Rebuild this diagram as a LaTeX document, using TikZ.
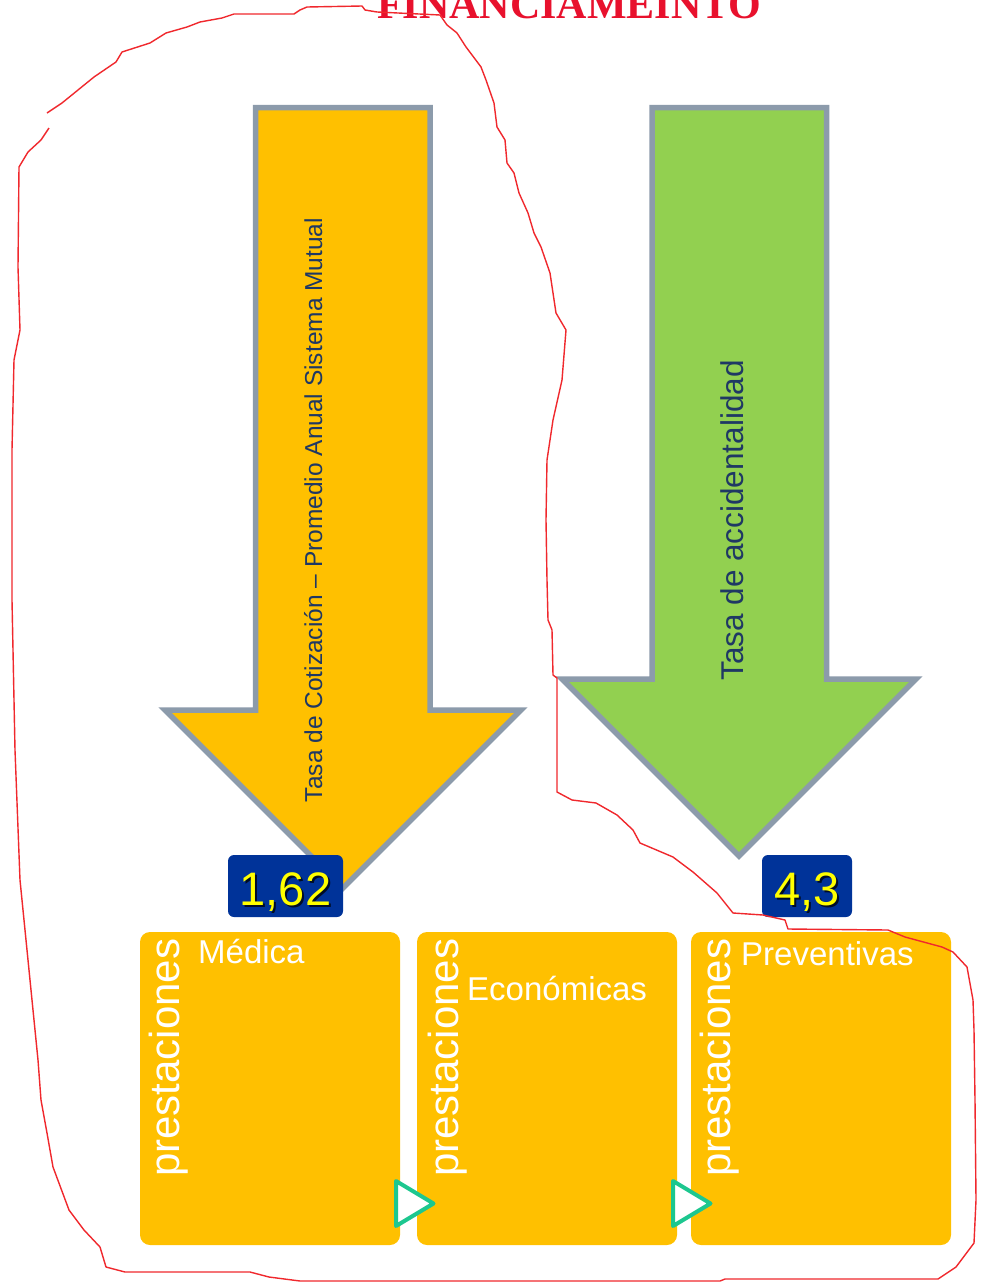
\documentclass[tikz,border=0pt]{standalone}
\usepackage{fontspec}
\setmainfont{Liberation Sans}
\newfontfamily\titlefont{Liberation Serif}
\usetikzlibrary{calc}
\definecolor{orangefill}{HTML}{FFC000}
\definecolor{greenfill}{HTML}{92D050}
\definecolor{arrowborder}{HTML}{8C9BAB}
\definecolor{navytext}{HTML}{1F3864}
\definecolor{numblue}{HTML}{003399}
\definecolor{numyellow}{HTML}{FFFF00}
\definecolor{tealtri}{HTML}{1DC78F}
\definecolor{titlered}{HTML}{E8112D}
\definecolor{outlinered}{HTML}{F0282D}
\tikzset{
  bigarrow/.style={line width=5.5, draw=arrowborder, line join=miter},
  arrowtext/.style={rotate=90, anchor=base, text=navytext, inner sep=0},
  numbox/.style={fill=numblue, rounded corners=6, minimum width=#1, minimum height=62, inner sep=0},
  numtext/.style={anchor=base, text=numyellow, inner sep=0, font=\fontsize{47}{50}\selectfont},
  numshadow/.style={anchor=base, text=black, opacity=0.75, inner sep=0, font=\fontsize{47}{50}\selectfont},
  pbox/.style={fill=orangefill, rounded corners=10, minimum width=260, minimum height=313, inner sep=0},
  vlabel/.style={rotate=90, anchor=base west, text=white, inner sep=0, font=\fontsize{42}{46}\selectfont},
  hlabel/.style={anchor=base west, text=white, inner sep=0, font=\fontsize{33}{36}\selectfont},
  tri/.style={line width=4, draw=tealtri, fill=white, line join=round},
  outline/.style={draw=outlinered, line width=1.4, line join=round}
}
\begin{document}
\begin{tikzpicture}[x=1pt,y=-1pt]
\clip (0,0) rectangle (980,1282);
\fill[white] (0,0) rectangle (980,1282);

% title
\node[anchor=base west, text=titlered, inner sep=0, font=\titlefont\bfseries\fontsize{42}{46}\selectfont] (title) at (377,18) {FINANCIAMEINTO};

% arrows
\draw[bigarrow, fill=orangefill] (255.5,107.5) -- (430,107.5) -- (430,710) -- (521,710) -- (343,888) -- (165,710) -- (255.5,710) -- cycle;
\draw[bigarrow, fill=greenfill] (652,107.5) -- (826.5,107.5) -- (826.5,679) -- (916,679) -- (739,856) -- (562,679) -- (652,679) -- cycle;
\node[arrowtext, font=\fontsize{24.5}{28}\selectfont] (t1) at (322,510) {Tasa de Cotización – Promedio Anual Sistema Mutual};
\node[arrowtext, font=\fontsize{31.5}{34}\selectfont] (t2) at (743,520.5) {Tasa de accidentalidad};

% number boxes
\node[numbox=115] (n1) at (285.5,886) {};
\node[numshadow] (n1s) at (287.5,907) {1,62};
\node[numtext] (n1t) at (285.5,905) {1,62};
\node[numbox=90] (n2) at (807,886) {};
\node[numshadow] (n2s) at (809,907) {4,3};
\node[numtext] (n2t) at (807,905) {4,3};

% bottom boxes
\node[pbox] (b1) at (270,1088.5) {};
\node[pbox] (b2) at (547,1088.5) {};
\node[pbox] (b3) at (821,1088.5) {};
\node[vlabel] (p1) at (179,1177) {prestaciones};
\node[vlabel] (p2) at (458,1177) {prestaciones};
\node[vlabel] (p3) at (730,1177) {prestaciones};
\node[hlabel] (l1) at (198,963) {Médica};
\node[hlabel] (l2) at (467,1000) {Económicas};
\node[hlabel] (l3) at (741,965) {Preventivas};

% triangles
\draw[tri] (396,1181) -- (433.5,1203.5) -- (396,1226) -- cycle;
\draw[tri] (673,1181) -- (710.5,1203.5) -- (673,1226) -- cycle;

% hand-drawn outline
\draw[outline] (49,128) -- (41,140) -- (28,152) -- (19,167) -- (18,267) -- (20,330) -- (14,360) -- (12,450) -- (12,600) -- (15,750) -- (20,880) -- (30,980) -- (38,1060) -- (41,1100) -- (47,1133) -- (53,1167) -- (69,1210) -- (84,1230) -- (100,1247) -- (106,1267) -- (125,1272) -- (250,1272) -- (269,1277) -- (300,1281) -- (519,1281) -- (720,1281) -- (725,1279) -- (938,1279) -- (956,1267) -- (974,1243) -- (976,1200) -- (975,1100) -- (974,1030) -- (973,1000) -- (967,967) -- (953,952) -- (942,947) -- (905,937) -- (888,930) -- (788,929) -- (785,920) -- (763,915) -- (733,913) -- (717,893) -- (693,872) -- (673,857) -- (640,843) -- (633,830) -- (617,815) -- (596,803) -- (572,800) -- (557,792) -- (557,678) -- (553,675) -- (552,630) -- (548,620) -- (547,580) -- (546,520) -- (547,460) -- (553,420) -- (562,380) -- (566,330) -- (556,313) -- (550,273) -- (541,247) -- (534,233) -- (528,213) -- (519,193) -- (514,173) -- (507,163) -- (505,140) -- (497,127) -- (494,103) -- (486,80) -- (481,67) -- (466,47) -- (457,33) -- (447,25) -- (440,15) -- (377,12) -- (365,10) -- (362,6) -- (307,7) -- (300,10) -- (294,14) -- (234,14) -- (222,18) -- (200,22) -- (187,27) -- (166,33) -- (150,43) -- (122,52) -- (116,62) -- (94,77) -- (78,90) -- (62,103) -- (47,113);
\end{tikzpicture}
\end{document}
